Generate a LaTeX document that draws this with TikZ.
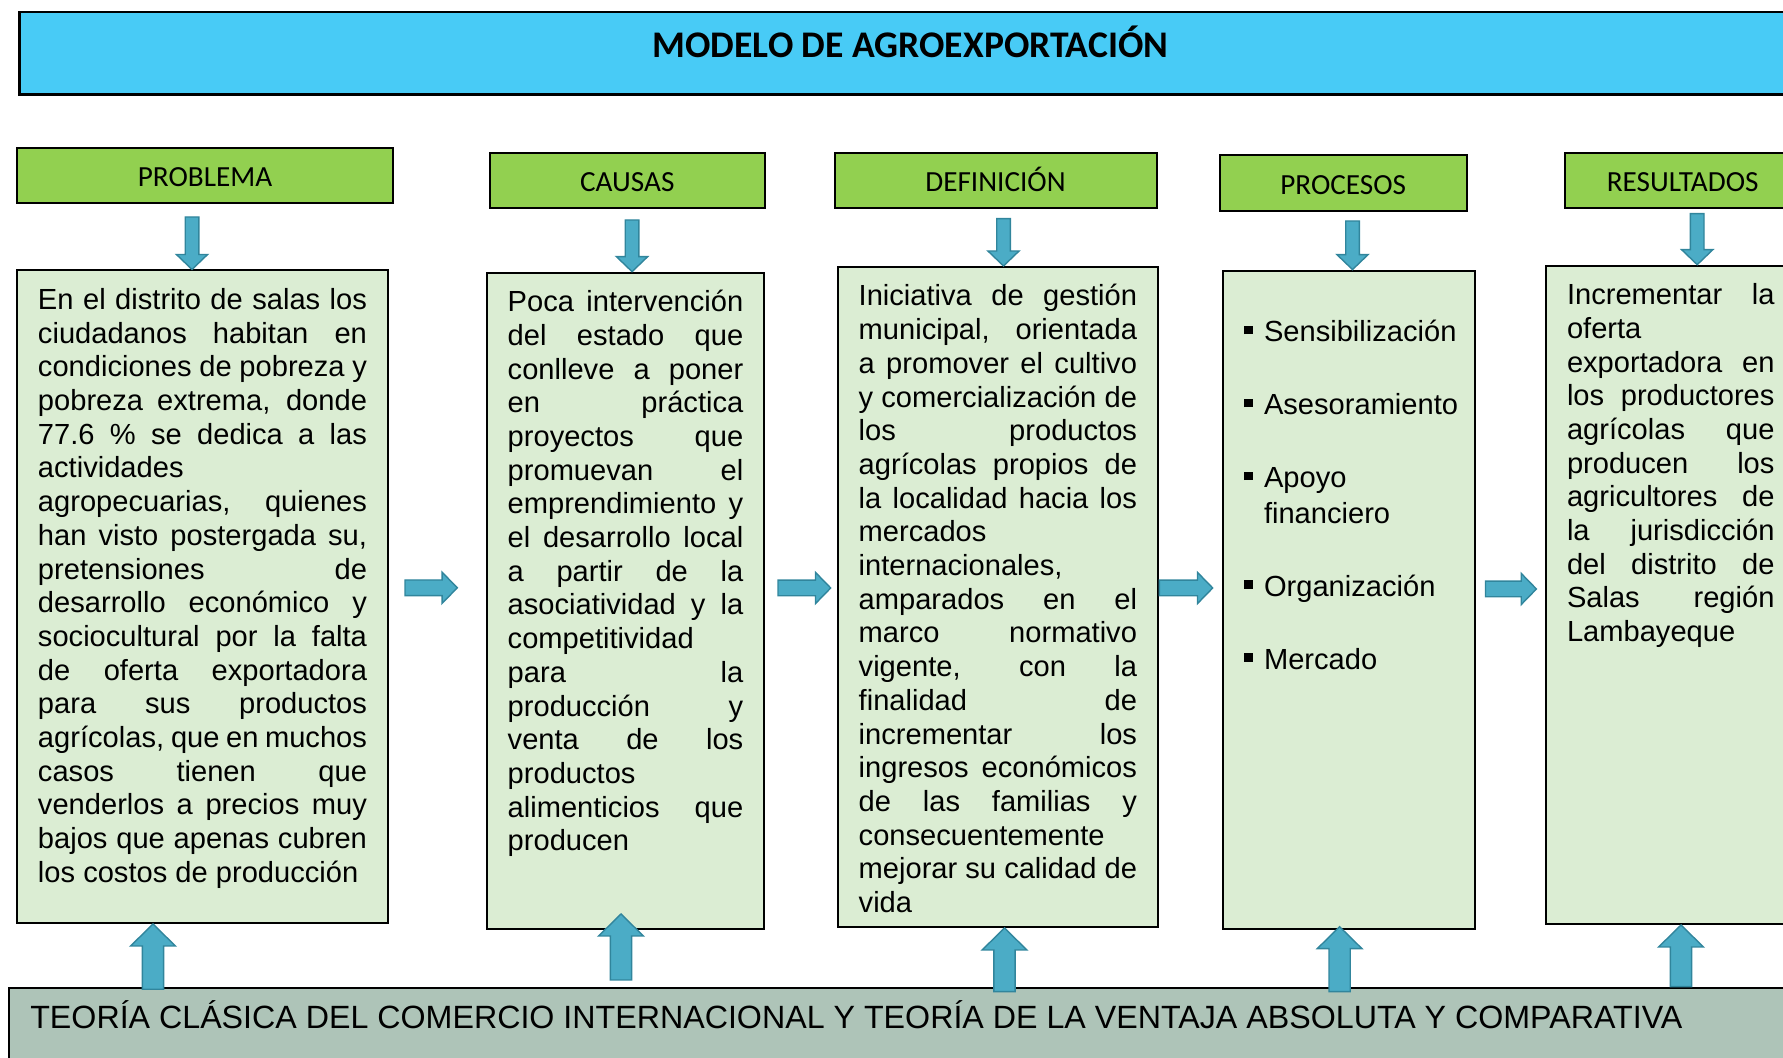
\documentclass[tikz,border=0pt]{standalone}
\usepackage{fontspec}
\setmainfont{Liberation Sans}
\newfontfamily\calibri{Carlito}
\usepackage{tikz}
\usetikzlibrary{positioning, calc}
\definecolor{titlecyan}{RGB}{72,203,246}
\definecolor{headgreen}{RGB}{146,208,80}
\definecolor{boxgreen}{RGB}{219,237,211}
\definecolor{basegrey}{RGB}{174,196,184}
\definecolor{arrowfill}{RGB}{75,172,198}
\definecolor{arrowline}{RGB}{49,133,156}
\newcommand{\jl}[1]{\makebox[\linewidth][s]{#1}\\}
\newcommand{\bodyfont}{\fontsize{14.55pt}{16.85pt}\selectfont}
\newcommand{\boxtext}[3]{\parbox[c][#2][t]{#1}{\bodyfont\strut#3}}
\newcommand{\bul}{\makebox[10pt][l]{\raisebox{3.7pt}{\rule{4.3pt}{4.3pt}}}}
\tikzset{
	titlebox/.style={
		draw, line width=1.2pt, fill=titlecyan, anchor=north west,
		font={\calibri\bfseries\fontsize{18.8pt}{22pt}\selectfont},
		text height=0.76em, text depth=0.32em
	},
	heading/.style={
		draw, line width=1pt, fill=headgreen, anchor=north west,
		inner sep=0pt,
		font={\calibri\fontsize{14.6pt}{17pt}\selectfont},
		text height=1.12em, text depth=0em
	},
	txtbox/.style={
		draw, line width=1pt, fill=boxgreen, anchor=north west,
		inner xsep=10.5pt, inner ysep=7.7pt
	},
	theorybox/.style={
		draw, line width=1pt, fill=basegrey, anchor=north west,
		inner xsep=10.5pt, inner ysep=6pt
	},
	arrowdims/.code n args={3}{\def\shafthw{#1}\def\headhw{#2}\def\headlen{#3}},
	blockarrow/.style={
		draw=arrowline, fill=arrowfill, line width=0.7pt,
		to path={
			($(\tikztostart)!\shafthw!90:(\tikztotarget)$)
			-- ($(\tikztotarget)!\headlen!(\tikztostart)!\shafthw!90:(\tikztotarget)$)
			-- ($(\tikztotarget)!\headlen!(\tikztostart)!\headhw!90:(\tikztotarget)$)
			-- (\tikztotarget)
			-- ($(\tikztotarget)!\headlen!(\tikztostart)!\headhw!-90:(\tikztotarget)$)
			-- ($(\tikztotarget)!\headlen!(\tikztostart)!\shafthw!-90:(\tikztotarget)$)
			-- ($(\tikztostart)!\shafthw!-90:(\tikztotarget)$)
			-- cycle
		}
	},
	downarrow/.style={blockarrow, arrowdims={3.4pt}{7.8pt}{7.5pt}},
	rightarrow/.style={blockarrow, arrowdims={3.9pt}{7.8pt}{7.6pt}},
	uparrow/.style={blockarrow, arrowdims={5.3pt}{11.2pt}{11pt}}
}

\begin{document}
\begin{tikzpicture}[x=0.5pt, y=0.5pt]
\useasboundingbox (0,0) rectangle (1783,1058);
\clip (0,0) rectangle (1783,1058);

\node(title)[titlebox, minimum width=890.8pt, minimum height=41.15pt] at (18.4,1047) {MODELO DE AGROEXPORTACIÓN};

% headings
\node(hprob)[heading, minimum width=188pt, minimum height=27.5pt] at (16,911) {PROBLEMA};
\node(hcaus)[heading, minimum width=137.25pt, minimum height=27.5pt] at (489,905.7) {CAUSAS};
\node(hdef)[heading, minimum width=161pt, minimum height=27.5pt] at (833.5,905.7) {DEFINICIÓN};
\node(hproc)[heading, minimum width=123.5pt, minimum height=27.85pt] at (1218.7,903.7) {PROCESOS};
\node(hres)[heading, minimum width=118pt, minimum height=27.5pt] at (1563.7,905.7) {RESULTADOS};

% text boxes
\node(tprob)[txtbox] at (16,788.5) {\boxtext{164.5pt}{310.85pt}{%
\jl{En el distrito de salas los}
\jl{ciudadanos habitan en}
\jl{condiciones de pobreza y}
\jl{pobreza extrema, donde}
\jl{77.6 \% se dedica a las}
actividades\\
\jl{agropecuarias, quienes}
\jl{han visto postergada su,}
\jl{pretensiones de}
\jl{desarrollo económico y}
\jl{sociocultural por la falta}
\jl{de oferta exportadora}
\jl{para sus productos}
\jl{agrícolas, que en muchos}
\jl{casos tienen que}
\jl{venderlos a precios muy}
\jl{bajos que apenas cubren}
los costos de producción}};

\node(tcaus)[txtbox] at (485.7,786.3) {\boxtext{117.8pt}{312.6pt}{%
\jl{Poca intervención}
\jl{del estado que}
\jl{conlleve a poner}
\jl{en práctica}
\jl{proyectos que}
\jl{promuevan el}
\jl{emprendimiento y}
\jl{el desarrollo local}
\jl{a partir de la}
\jl{asociatividad y la}
competitividad\\
\jl{para la}
\jl{producción y}
\jl{venta de los}
productos\\
\jl{alimenticios que}
producen}};

\node(tdef)[txtbox] at (836.7,792) {\boxtext{139.15pt}{314.6pt}{%
\jl{Iniciativa de gestión}
\jl{municipal, orientada}
\jl{a promover el cultivo}
\jl{y comercialización de}
\jl{los productos}
\jl{agrícolas propios de}
\jl{la localidad hacia los}
mercados\\
internacionales,\\
\jl{amparados en el}
\jl{marco normativo}
\jl{vigente, con la}
\jl{finalidad de}
\jl{incrementar los}
\jl{ingresos económicos}
\jl{de las familias y}
consecuentemente\\
\jl{mejorar su calidad de}
vida}};

\node(tproc)[txtbox] at (1222,788.4) {\parbox[c][313.6pt][t]{105pt}{%
\fontsize{14.55pt}{17.75pt}\selectfont\setlength{\parskip}{18.75pt}%
\vspace*{-3.35pt}\strut\bul Sensibilización\par
\strut\bul Asesoramiento\par
\strut\bul Apoyo\\\hspace*{10pt}financiero\par
\strut\bul Organización\par
\strut\bul Mercado}};

\node(tres)[txtbox] at (1545,793.3) {\boxtext{103.75pt}{313.75pt}{%
\jl{Incrementar la}
oferta\\
\jl{exportadora en}
\jl{los productores}
\jl{agrícolas que}
\jl{producen los}
\jl{agricultores de}
\jl{la jurisdicción}
\jl{del distrito de}
\jl{Salas región}
Lambayeque}};

\node(bteo)[theorybox] at (8.3,70.7) {\parbox[c][36pt][t]{874.85pt}{%
\fontsize{16.1pt}{18.4pt}\selectfont\strut TEORÍA CLÁSICA DEL COMERCIO INTERNACIONAL Y TEORÍA DE LA VENTAJA ABSOLUTA Y COMPARATIVA}};

% heading to box
\coordinate (a1) at ([shift={(-13,-13)}]hprob.south);
\coordinate (a2) at ([shift={(4.8,-10.7)}]hcaus.south);
\coordinate (a3) at ([shift={(8,-9.4)}]hdef.south);
\coordinate (a4) at ([shift={(9.3,-9)}]hproc.south);
\coordinate (a5) at ([shift={(14.5,-4.4)}]hres.south);
\draw[downarrow] (a1) to (a1 |- tprob.north);
\draw[downarrow] (a2) to (a2 |- tcaus.north);
\draw[downarrow] (a3) to (a3 |- tdef.north);
\draw[downarrow] (a4) to (a4 |- tproc.north);
\draw[downarrow] (a5) to (a5 |- tres.north);

% box to box
\coordinate (r1) at (405,470.2);
\coordinate (r1e) at (457.3,470.2);
\coordinate (r2) at (778,470);
\coordinate (r2e) at (830.7,470);
\coordinate (r3) at (1159.3,470);
\coordinate (r3e) at (1212.7,470);
\coordinate (r4) at (1485.5,469);
\coordinate (r4e) at (1536.4,469);
\draw[rightarrow] (r1) to (r1e);
\draw[rightarrow] (r2) to (r2e);
\draw[rightarrow] (r3) to (r3e);
\draw[rightarrow] (r4) to (r4e);

% theory to boxes
\coordinate (u1) at (153,68.7);
\coordinate (u2) at (621,78);
\coordinate (u2e) at (621,144);
\coordinate (u3) at (1004.5,66.3);
\coordinate (u4) at (1339.6,66.3);
\coordinate (u4e) at (1339.6,131.3);
\coordinate (u5) at (1681,71.3);
\draw[uparrow] (u1) to (u1 |- tprob.south);
\draw[uparrow] (u2) to (u2e);
\draw[uparrow] (u3) to (u3 |- tdef.south);
\draw[uparrow] (u4) to (u4e);
\draw[uparrow] (u5) to (u5 |- tres.south);

\end{tikzpicture}
\end{document}
